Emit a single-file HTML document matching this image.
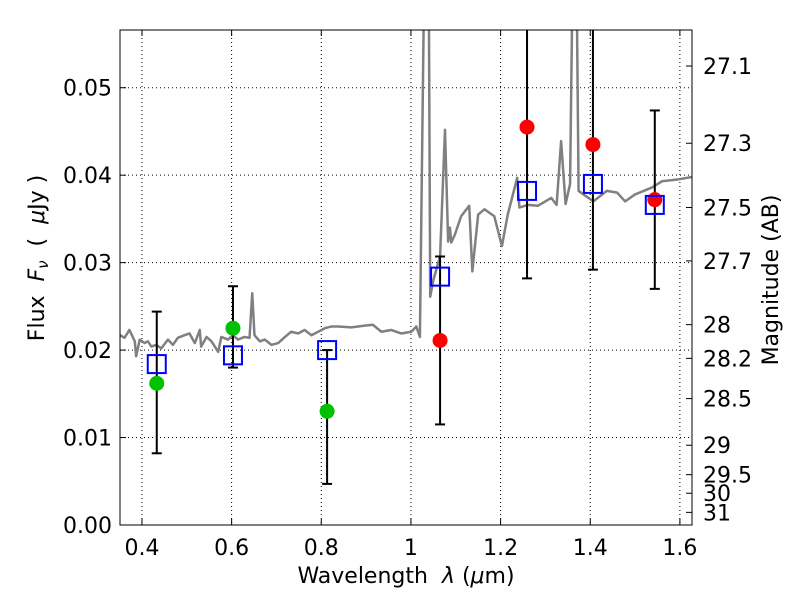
<!DOCTYPE html>
<html><head><meta charset="utf-8"><style>
body{margin:0;background:#fff;}
svg{display:block;font-family:"DejaVu Sans","Liberation Sans",sans-serif;}
.pre{white-space:pre;}
</style></head><body>
<svg id="chart" width="800" height="600" viewBox="0 0 800 600" xmlns="http://www.w3.org/2000/svg">
<rect x="0" y="0" width="800" height="600" fill="#fff"/>
<g id="grid"></g>
<g id="spec"></g>
<g id="marks"></g>
<rect x="120" y="30" width="572" height="495" fill="none" stroke="#000" stroke-width="1"/>
<g id="axes"></g>
<text class="pre" x="406" y="583" font-size="22" text-anchor="middle">Wavelength  <tspan font-style="italic">λ</tspan> (<tspan font-style="italic">μ</tspan>m)</text>
<text class="pre" transform="translate(44,258) rotate(-90)" font-size="22" text-anchor="middle">Flux  <tspan font-style="italic">F</tspan><tspan font-style="italic" font-size="15" dy="4">ν</tspan><tspan dy="-4">  (  </tspan><tspan font-style="italic">μ</tspan>Jy )</text>
<text transform="translate(778,280) rotate(-90)" font-size="22" text-anchor="middle">Magnitude (AB)</text>
</svg>
<script>
const xTicks=[0.4,0.6,0.8,1.0,1.2,1.4,1.6];
const xTickLabels=["0.4","0.6","0.8","1","1.2","1.4","1.6"];
const yTicks=[0,0.01,0.02,0.03,0.04,0.05];
const yTickLabels=["0.00","0.01","0.02","0.03","0.04","0.05"];
const magTicks=[27.1,27.3,27.5,27.7,28,28.2,28.5,29,29.5,30,31];
const specWave=[0.351,0.361,0.372,0.384,0.387,0.395,0.406,0.413,0.421,0.432,0.443,0.458,0.469,0.480,0.495,0.506,0.518,0.529,0.532,0.544,0.555,0.570,0.577,0.592,0.603,0.614,0.629,0.640,0.646,0.651,0.663,0.674,0.689,0.704,0.719,0.733,0.748,0.763,0.778,0.793,0.808,0.823,0.837,0.867,0.897,0.915,0.934,0.956,0.978,1.001,1.012,1.02,1.029,1.033,1.040,1.043,1.05,1.065,1.076,1.083,1.087,1.09,1.098,1.112,1.13,1.137,1.15,1.164,1.186,1.203,1.216,1.237,1.242,1.26,1.283,1.313,1.325,1.335,1.345,1.355,1.36,1.37,1.374,1.407,1.437,1.46,1.478,1.50,1.538,1.56,1.594,1.627];
const specFlux=[0.0217,0.0214,0.0223,0.0210,0.0193,0.0212,0.0208,0.0210,0.0204,0.0206,0.0202,0.0212,0.0206,0.0214,0.0217,0.0219,0.0208,0.0223,0.0204,0.0215,0.0210,0.0198,0.0215,0.0212,0.0217,0.0212,0.0215,0.0214,0.0265,0.0217,0.0210,0.0212,0.0206,0.0208,0.0215,0.0221,0.0219,0.0223,0.0217,0.0221,0.0225,0.0227,0.0227,0.0226,0.0228,0.0229,0.0221,0.0223,0.0219,0.0221,0.0227,0.0215,0.06,0.06,0.06,0.0261,0.028,0.0307,0.0452,0.0324,0.034,0.0323,0.0332,0.0353,0.0365,0.029,0.0355,0.0361,0.0353,0.0319,0.0355,0.0397,0.0363,0.0366,0.0365,0.0374,0.0366,0.0439,0.0367,0.039,0.06,0.06,0.0382,0.037,0.0382,0.038,0.037,0.0378,0.0386,0.0393,0.0395,0.0398];
const bandWave=[0.433,0.603,0.813,1.065,1.259,1.406,1.544];
const modelFlux=[0.0184,0.0194,0.0200,0.0284,0.0382,0.0390,0.0366];
const errLow=[0.0082,0.0180,0.0047,0.0115,0.0282,0.0292,0.0270];
const errHigh=[0.0244,0.0273,0.0200,0.0307,0.07,0.07,0.0474];
const obsWave=[0.433,0.603,0.813,1.065,1.259,1.406,1.544];
const obsFlux=[0.0162,0.0225,0.0130,0.0211,0.0455,0.0435,0.0372];
const obsColor=["#00c000","#00c000","#00c000","#ff0000","#ff0000","#ff0000","#ff0000"];

const X0=120,X1=692,Y0=30,Y1=525;
const xmin=0.351,xmax=1.627,ymin=0,ymax=0.0566;
const sx=v=>X0+(v-xmin)/(xmax-xmin)*(X1-X0);
const sy=v=>Y1-(v-ymin)/(ymax-ymin)*(Y1-Y0);
const NS="http://www.w3.org/2000/svg";
function mk(parent,tag,attrs){const e=document.createElementNS(NS,tag);for(const k in attrs)e.setAttribute(k,attrs[k]);parent.appendChild(e);return e;}
const grid=document.getElementById('grid'),axes=document.getElementById('axes'),spec=document.getElementById('spec'),marks=document.getElementById('marks');

xTicks.forEach((t,i)=>{const x=sx(t);
 const g=mk(grid,'line',{x1:x,x2:x,y1:Y0,y2:Y1,stroke:'#000','stroke-dasharray':'1,3','stroke-width':1});
 
 
 mk(axes,'line',{x1:x,x2:x,y1:Y1,y2:Y1-6,stroke:'#000'});
 mk(axes,'line',{x1:x,x2:x,y1:Y0,y2:Y0+6,stroke:'#000'});
 const t2=mk(axes,'text',{x:x,y:555,'font-size':22,'text-anchor':'middle'});t2.textContent=xTickLabels[i];
 
 
});
yTicks.forEach((t,i)=>{const y=sy(t);
 if(t>0){const g=mk(grid,'line',{x1:X0,x2:X1,y1:y,y2:y,stroke:'#000','stroke-dasharray':'1,3','stroke-width':1});
 
 }
 mk(axes,'line',{x1:X0,x2:X0+6,y1:y,y2:y,stroke:'#000'});
 const t2=mk(axes,'text',{x:112,y:y+8,'font-size':22,'text-anchor':'end'});t2.textContent=yTickLabels[i];
 
 
});
magTicks.forEach(m=>{const f=Math.pow(10,(23.9-m)/2.5);const y=sy(f);
 mk(axes,'line',{x1:X1,x2:X1-6,y1:y,y2:y,stroke:'#000'});
 const t2=mk(axes,'text',{x:703,y:y+8,'font-size':22,'text-anchor':'start'});t2.textContent=String(m);
 
 
});

const clip=mk(document.getElementById('chart'),'clipPath',{id:'pc'});
mk(clip,'rect',{x:X0,y:Y0,width:X1-X0,height:Y1-Y0});
spec.setAttribute('clip-path','url(#pc)');marks.setAttribute('clip-path','url(#pc)');
const pl=mk(spec,'polyline',{points:specWave.map((w,i)=>sx(w)+','+sy(specFlux[i])).join(' '),fill:'none',stroke:'#808080','stroke-width':2.5,'stroke-linejoin':'round'});



bandWave.forEach((w,i)=>{const x=sx(w);
 const e=mk(marks,'line',{x1:x,x2:x,y1:sy(errLow[i]),y2:sy(errHigh[i]),stroke:'#000','stroke-width':2});
 
 
 [errLow[i],errHigh[i]].forEach(v=>mk(marks,'line',{x1:x-5,x2:x+5,y1:sy(v),y2:sy(v),stroke:'#000','stroke-width':2}));
});
obsWave.forEach((w,i)=>{
 const c=mk(marks,'circle',{cx:sx(w),cy:sy(obsFlux[i]),r:7.5,fill:obsColor[i]});
 
 
});
bandWave.forEach((w,i)=>{
 const r=mk(marks,'rect',{x:sx(w)-9,y:sy(modelFlux[i])-9,width:18,height:18,fill:'none',stroke:'#0000ff','stroke-width':2});
 
 
});
</script>
</body></html>
